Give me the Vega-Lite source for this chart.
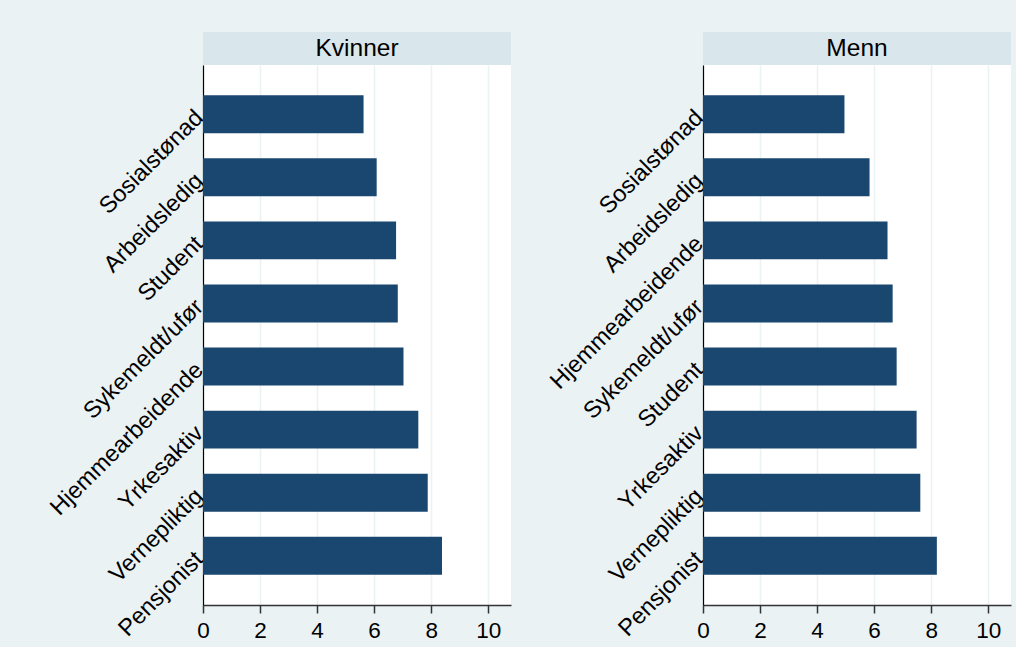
{
  "$schema": "https://vega.github.io/schema/vega-lite/v6.json",
  "background": "#EAF2F3",
  "padding": {"left": 45, "top": 32, "right": 5, "bottom": 5},
  "datasets": {
    "d": [
      {"kjonn": "Kvinner", "kategori": "Sosialstønad", "verdi": 5.63},
      {"kjonn": "Kvinner", "kategori": "Arbeidsledig", "verdi": 6.09},
      {"kjonn": "Kvinner", "kategori": "Student", "verdi": 6.77},
      {"kjonn": "Kvinner", "kategori": "Sykemeldt/ufør", "verdi": 6.83},
      {"kjonn": "Kvinner", "kategori": "Hjemmearbeidende", "verdi": 7.03},
      {"kjonn": "Kvinner", "kategori": "Yrkesaktiv", "verdi": 7.55},
      {"kjonn": "Kvinner", "kategori": "Vernepliktig", "verdi": 7.88},
      {"kjonn": "Kvinner", "kategori": "Pensjonist", "verdi": 8.38},
      {"kjonn": "Menn", "kategori": "Sosialstønad", "verdi": 4.96},
      {"kjonn": "Menn", "kategori": "Arbeidsledig", "verdi": 5.84},
      {"kjonn": "Menn", "kategori": "Hjemmearbeidende", "verdi": 6.47},
      {"kjonn": "Menn", "kategori": "Sykemeldt/ufør", "verdi": 6.65},
      {"kjonn": "Menn", "kategori": "Student", "verdi": 6.79},
      {"kjonn": "Menn", "kategori": "Yrkesaktiv", "verdi": 7.49},
      {"kjonn": "Menn", "kategori": "Vernepliktig", "verdi": 7.62},
      {"kjonn": "Menn", "kategori": "Pensjonist", "verdi": 8.2}
    ],
    "h": [
      {"kjonn": "Kvinner"},
      {"kjonn": "Menn"}
    ]
  },
  "config": {
    "font": "Liberation Sans",
    "view": {"stroke": null},
    "axis": {
      "labelFont": "Liberation Sans",
      "labelColor": "#000000",
      "labelFontSize": 22.5,
      "labelLimit": 400,
      "title": null
    }
  },
  "hconcat": [
    {
      "spacing": 0,
      "vconcat": [
        {
          "width": 308,
          "height": 33,
          "view": {"fill": "#D9E6EB", "stroke": null},
          "data": {"name": "h"},
          "transform": [{"filter": "datum.kjonn === 'Kvinner'"}],
          "mark": {"type": "text", "fontSize": 24.5, "color": "#000000", "font": "Liberation Sans"},
          "encoding": {
            "x": {"field": "kjonn", "type": "nominal", "axis": null},
            "text": {"field": "kjonn"}
          }
        },
        {
          "width": 308,
          "height": 540,
          "view": {"fill": "#FFFFFF", "stroke": null},
          "data": {"name": "d"},
          "transform": [{"filter": "datum.kjonn === 'Kvinner'"}],
          "mark": {"type": "bar", "color": "#1A476F"},
          "encoding": {
            "y": {
              "field": "kategori", "type": "nominal",
              "sort": {"field": "verdi", "order": "ascending"},
              "scale": {"paddingInner": 0.4, "paddingOuter": 0.48},
              "axis": {"labelAngle": -45, "labelAlign": "right", "labelBaseline": "middle", "labelFontSize": 23.5, "ticks": false, "labelPadding": 4, "domainColor": "#000000", "domainWidth": 1.2, "grid": false}
            },
            "x": {
              "field": "verdi", "type": "quantitative",
              "scale": {"domain": [0, 10.8], "nice": false, "zero": true},
              "axis": {"values": [0, 2, 4, 6, 8, 10], "labelFlush": false, "tickSize": 8, "tickColor": "#333333", "tickWidth": 1.5, "domainColor": "#333333", "domainWidth": 1.5, "gridColor": "#EAF2F3", "gridWidth": 1.5, "labelPadding": 6}
            }
          }
        }
      ]
    },
    {
      "spacing": 0,
      "vconcat": [
        {
          "width": 308,
          "height": 33,
          "view": {"fill": "#D9E6EB", "stroke": null},
          "data": {"name": "h"},
          "transform": [{"filter": "datum.kjonn === 'Menn'"}],
          "mark": {"type": "text", "fontSize": 24.5, "color": "#000000", "font": "Liberation Sans"},
          "encoding": {
            "x": {"field": "kjonn", "type": "nominal", "axis": null},
            "text": {"field": "kjonn"}
          }
        },
        {
          "width": 308,
          "height": 540,
          "view": {"fill": "#FFFFFF", "stroke": null},
          "data": {"name": "d"},
          "transform": [{"filter": "datum.kjonn === 'Menn'"}],
          "mark": {"type": "bar", "color": "#1A476F"},
          "encoding": {
            "y": {
              "field": "kategori", "type": "nominal",
              "sort": {"field": "verdi", "order": "ascending"},
              "scale": {"paddingInner": 0.4, "paddingOuter": 0.48},
              "axis": {"labelAngle": -45, "labelAlign": "right", "labelBaseline": "middle", "labelFontSize": 23.5, "ticks": false, "labelPadding": 4, "domainColor": "#000000", "domainWidth": 1.2, "grid": false}
            },
            "x": {
              "field": "verdi", "type": "quantitative",
              "scale": {"domain": [0, 10.8], "nice": false, "zero": true},
              "axis": {"values": [0, 2, 4, 6, 8, 10], "labelFlush": false, "tickSize": 8, "tickColor": "#333333", "tickWidth": 1.5, "domainColor": "#333333", "domainWidth": 1.5, "gridColor": "#EAF2F3", "gridWidth": 1.5, "labelPadding": 6}
            }
          }
        }
      ]
    }
  ],
  "spacing": 34
}
